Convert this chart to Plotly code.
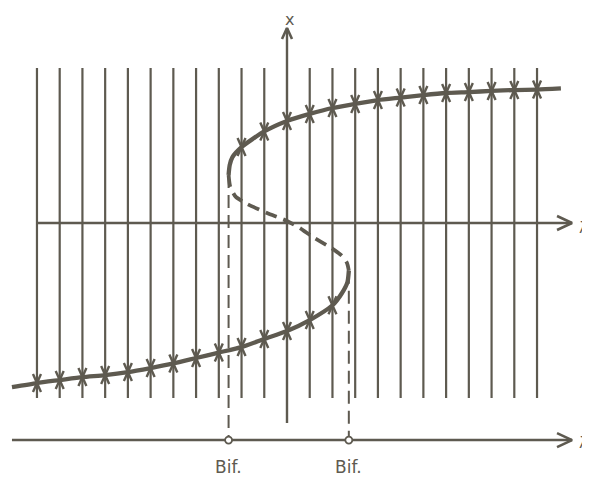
import numpy as np
import plotly.graph_objects as go

# ---------------- data ----------------
# parameter values of the vertical phase lines
line_lams = list(range(-11, 12))

# stable upper branch (lambda, x)
upper_lam = [-2.57, -2.52, -2.40, -2.0, -1.0, 0, 1, 2, 3, 4, 5, 6, 7, 8, 9, 10, 11, 12.05]
upper_x = [2.11, 2.55, 2.90, 3.34, 4.03, 4.49, 4.80, 5.06, 5.24, 5.41, 5.52, 5.63, 5.72, 5.76, 5.81, 5.85, 5.87, 5.92]

# unstable middle branch
mid_lam = [-2.57, -2.50, -2.26, -1.76, -0.88, 0.0, 0.57, 1.14, 1.89, 2.42, 2.64, 2.72]
mid_x = [2.11, 1.60, 1.16, 0.84, 0.44, 0.09, -0.22, -0.62, -1.06, -1.45, -1.76, -2.10]

# stable lower branch
lower_lam = [2.72, 2.66, 2.42, 2.0, 1.0, 0, -1, -2, -3, -4, -5, -6, -7, -8, -9, -10, -11, -12.10]
lower_x = [-2.10, -2.60, -3.08, -3.62, -4.27, -4.75, -5.10, -5.46, -5.70, -5.94, -6.18, -6.38, -6.56, -6.69, -6.78, -6.91, -7.04, -7.22]

# phase lines on which arrows sit
upper_arrow_lams = list(range(-2, 12))
lower_arrow_lams = list(range(-11, 3))

# bifurcation points
bif_lams = [-2.57, 2.72]
bif_xs = [2.11, -2.10]
bif_labels = ["Bif.", "Bif."]

# ---------------- layout values ----------------
S = 22.73                    # pixels per unit
OFF = 8                      # page body margin
col = "#5e5a50"
line_top, line_bot = 6.82, -7.70
axis_top, axis_bot = 8.58, -8.80
lam_axis_start, lam_axis_end = -11.0, 12.54
bottom_axis_y, bottom_axis_start = -9.55, -12.10
x_right = (590 - 287) / S
y_top = (223 - OFF) / S

fig = go.Figure()

def seg_trace(xs, ys, width, dash=None):
    fig.add_trace(go.Scatter(x=xs, y=ys, mode="lines",
                             line=dict(color=col, width=width, dash=dash),
                             hoverinfo="skip", showlegend=False))

# vertical phase lines (except the x-axis which is drawn separately)
vx, vy = [], []
for l in line_lams:
    if l == 0:
        continue
    vx += [l, l, None]
    vy += [line_top, line_bot, None]
seg_trace(vx, vy, 2.2)

# axes
seg_trace([0, 0], [axis_bot, axis_top], 2.4)
seg_trace([lam_axis_start, lam_axis_end], [0, 0], 2.6)
seg_trace([bottom_axis_start, lam_axis_end], [bottom_axis_y, bottom_axis_y], 2.6)

# arrowheads of axes (open chevrons)
hb, hw = 15 / S, 7 / S
vb, vw = 11 / S, 5 / S
ax_x = [lam_axis_end - hb, lam_axis_end, lam_axis_end - hb, None,
        lam_axis_end - hb, lam_axis_end, lam_axis_end - hb, None,
        -vw, 0, vw]
ax_y = [hw, 0, -hw, None,
        bottom_axis_y + hw, bottom_axis_y, bottom_axis_y - hw, None,
        axis_top - vb, axis_top, axis_top - vb]
seg_trace(ax_x, ax_y, 2.6)

# dashed verticals from the turning points
dx_, dy_ = [], []
for l, xv in zip(bif_lams, bif_xs):
    dx_ += [l, l, None]
    dy_ += [xv, bottom_axis_y, None]
seg_trace(dx_, dy_, 2, dash="13px,7px")

# branches
fig.add_trace(go.Scatter(x=upper_lam, y=upper_x, mode="lines",
                         line=dict(color=col, width=4.3, shape="spline", smoothing=0.6),
                         hoverinfo="skip", showlegend=False))
fig.add_trace(go.Scatter(x=mid_lam, y=mid_x, mode="lines",
                         line=dict(color=col, width=3.8, shape="spline", smoothing=0.6,
                                   dash="12px,7px"),
                         hoverinfo="skip", showlegend=False))
fig.add_trace(go.Scatter(x=lower_lam, y=lower_x, mode="lines",
                         line=dict(color=col, width=4.3, shape="spline", smoothing=0.6),
                         hoverinfo="skip", showlegend=False))

# converging arrows on the phase lines at the stable branches
ah_w, ah_h = 4 / S, 9 / S
cx, cy = [], []
def chevrons(lams, xs):
    for l, xv in zip(lams, xs):
        for sgn in (1, -1):
            cx.extend([l - ah_w, l, l + ah_w, None])
            cy.extend([xv + sgn * ah_h, xv, xv + sgn * ah_h, None])
up_pos = np.interp(upper_arrow_lams, upper_lam[2:], upper_x[2:])
lo_sorted = sorted(zip(lower_lam[3:], lower_x[3:]))
lo_pos = np.interp(lower_arrow_lams, [p[0] for p in lo_sorted], [p[1] for p in lo_sorted])
chevrons(upper_arrow_lams, up_pos)
chevrons(lower_arrow_lams, lo_pos)
seg_trace(cx, cy, 2.4)

# bifurcation markers on the bottom axis
fig.add_trace(go.Scatter(x=bif_lams, y=[bottom_axis_y] * 2, mode="markers",
                         marker=dict(symbol="circle", size=7, color="white",
                                     line=dict(color=col, width=1.8)),
                         hoverinfo="skip", showlegend=False))

# texts
font = dict(family="DejaVu Sans, Liberation Sans, sans-serif", color=col)
ann = []
for l, t in zip(bif_lams, bif_labels):
    ann.append(dict(x=l, y=bottom_axis_y - 1.18, text=t, showarrow=False,
                    font=dict(size=17, **font), xanchor="center", yanchor="middle"))
ann.append(dict(x=0.1, y=y_top, text="x", showarrow=False,
                font=dict(size=16, **font), xanchor="center", yanchor="top"))
ann.append(dict(x=x_right, y=-0.2, text="λ", showarrow=False,
                font=dict(size=16, **font), xanchor="right", yanchor="middle"))
ann.append(dict(x=x_right, y=bottom_axis_y - 0.1, text="λ", showarrow=False,
                font=dict(size=16, **font), xanchor="right", yanchor="middle"))

fig.update_layout(
    width=590 - OFF, height=479 - OFF,
    margin=dict(l=0, r=0, t=0, b=0, pad=0),
    paper_bgcolor="white", plot_bgcolor="white",
    xaxis=dict(range=[(OFF - 287) / S, x_right], visible=False, fixedrange=True),
    yaxis=dict(range=[(223 - 479) / S, y_top], visible=False, fixedrange=True),
    annotations=ann,
    showlegend=False,
)

fig.write_html("out.html")
